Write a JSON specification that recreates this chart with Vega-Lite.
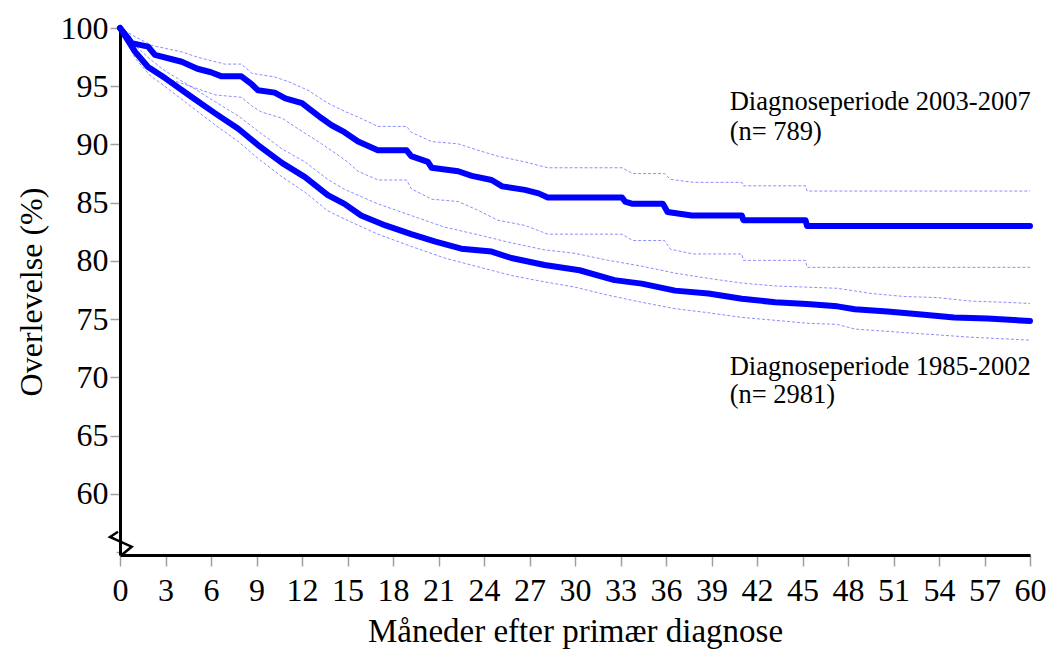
{
  "$schema": "https://vega.github.io/schema/vega-lite/v6.json",
  "width": 910,
  "height": 527,
  "autosize": {"type": "none"},
  "padding": {"left": 120, "top": 28, "right": 18, "bottom": 97},
  "background": "white",
  "config": {"view": {"stroke": null}, "font": "Liberation Serif"},
  "datasets": {
    "curves": [
      {"grp":"a","band":"est","m":0,"v":100},{"grp":"a","band":"est","m":0.5,"v":99.2},{"grp":"a","band":"est","m":0.77,"v":98.7},{"grp":"a","band":"est","m":1.85,"v":98.4},{"grp":"a","band":"est","m":2.3,"v":97.7},{"grp":"a","band":"est","m":4.07,"v":97.1},{"grp":"a","band":"est","m":5.1,"v":96.5},{"grp":"a","band":"est","m":6.0,"v":96.2},{"grp":"a","band":"est","m":6.7,"v":95.85},{"grp":"a","band":"est","m":8.0,"v":95.85},{"grp":"a","band":"est","m":8.7,"v":95.15},{"grp":"a","band":"est","m":9.1,"v":94.65},{"grp":"a","band":"est","m":10.2,"v":94.45},{"grp":"a","band":"est","m":10.9,"v":93.95},{"grp":"a","band":"est","m":12.0,"v":93.55},{"grp":"a","band":"est","m":12.4,"v":93.15},{"grp":"a","band":"est","m":13.3,"v":92.25},{"grp":"a","band":"est","m":13.95,"v":91.65},{"grp":"a","band":"est","m":14.8,"v":91.05},{"grp":"a","band":"est","m":15.7,"v":90.25},{"grp":"a","band":"est","m":17.0,"v":89.5},{"grp":"a","band":"est","m":18.9,"v":89.5},{"grp":"a","band":"est","m":19.2,"v":89.0},{"grp":"a","band":"est","m":20.3,"v":88.5},{"grp":"a","band":"est","m":20.55,"v":88.0},{"grp":"a","band":"est","m":22.3,"v":87.7},{"grp":"a","band":"est","m":23.2,"v":87.3},{"grp":"a","band":"est","m":24.5,"v":86.95},{"grp":"a","band":"est","m":25.2,"v":86.4},{"grp":"a","band":"est","m":26.7,"v":86.1},{"grp":"a","band":"est","m":27.6,"v":85.8},{"grp":"a","band":"est","m":28.2,"v":85.45},{"grp":"a","band":"est","m":33.1,"v":85.45},{"grp":"a","band":"est","m":33.3,"v":85.1},{"grp":"a","band":"est","m":33.8,"v":84.9},{"grp":"a","band":"est","m":35.8,"v":84.9},{"grp":"a","band":"est","m":36.1,"v":84.2},{"grp":"a","band":"est","m":37.7,"v":83.9},{"grp":"a","band":"est","m":41.0,"v":83.9},{"grp":"a","band":"est","m":41.1,"v":83.5},{"grp":"a","band":"est","m":45.2,"v":83.5},{"grp":"a","band":"est","m":45.3,"v":83.0},{"grp":"a","band":"est","m":60,"v":83.0},
      {"grp":"a","band":"hi","m":0,"v":100},{"grp":"a","band":"hi","m":1.0,"v":99.25},{"grp":"a","band":"hi","m":2.1,"v":98.5},{"grp":"a","band":"hi","m":4.07,"v":97.95},{"grp":"a","band":"hi","m":5.1,"v":97.5},{"grp":"a","band":"hi","m":6.9,"v":96.9},{"grp":"a","band":"hi","m":8.0,"v":96.9},{"grp":"a","band":"hi","m":8.7,"v":96.1},{"grp":"a","band":"hi","m":10.2,"v":95.8},{"grp":"a","band":"hi","m":11.1,"v":95.4},{"grp":"a","band":"hi","m":12.4,"v":94.65},{"grp":"a","band":"hi","m":13.7,"v":93.55},{"grp":"a","band":"hi","m":14.8,"v":92.85},{"grp":"a","band":"hi","m":15.7,"v":92.35},{"grp":"a","band":"hi","m":17.0,"v":91.55},{"grp":"a","band":"hi","m":18.9,"v":91.55},{"grp":"a","band":"hi","m":19.2,"v":91.05},{"grp":"a","band":"hi","m":20.55,"v":90.25},{"grp":"a","band":"hi","m":22.3,"v":90.05},{"grp":"a","band":"hi","m":23.6,"v":89.5},{"grp":"a","band":"hi","m":24.9,"v":89.0},{"grp":"a","band":"hi","m":26.7,"v":88.5},{"grp":"a","band":"hi","m":28.2,"v":88.0},{"grp":"a","band":"hi","m":33.1,"v":88.0},{"grp":"a","band":"hi","m":33.8,"v":87.5},{"grp":"a","band":"hi","m":35.9,"v":87.5},{"grp":"a","band":"hi","m":36.3,"v":87.0},{"grp":"a","band":"hi","m":37.8,"v":86.75},{"grp":"a","band":"hi","m":41.0,"v":86.75},{"grp":"a","band":"hi","m":41.1,"v":86.45},{"grp":"a","band":"hi","m":45.2,"v":86.45},{"grp":"a","band":"hi","m":45.3,"v":86.0},{"grp":"a","band":"hi","m":60,"v":86.0},
      {"grp":"a","band":"lo","m":0,"v":100},{"grp":"a","band":"lo","m":1.2,"v":97.8},{"grp":"a","band":"lo","m":2.5,"v":95.9},{"grp":"a","band":"lo","m":4.07,"v":95.25},{"grp":"a","band":"lo","m":6.3,"v":94.25},{"grp":"a","band":"lo","m":8.0,"v":94.05},{"grp":"a","band":"lo","m":8.7,"v":93.3},{"grp":"a","band":"lo","m":9.3,"v":92.8},{"grp":"a","band":"lo","m":10.7,"v":92.25},{"grp":"a","band":"lo","m":11.5,"v":91.55},{"grp":"a","band":"lo","m":13.3,"v":90.05},{"grp":"a","band":"lo","m":14.2,"v":89.25},{"grp":"a","band":"lo","m":15.0,"v":88.5},{"grp":"a","band":"lo","m":15.7,"v":87.7},{"grp":"a","band":"lo","m":17.0,"v":86.95},{"grp":"a","band":"lo","m":18.9,"v":86.95},{"grp":"a","band":"lo","m":19.2,"v":86.2},{"grp":"a","band":"lo","m":20.55,"v":85.3},{"grp":"a","band":"lo","m":22.3,"v":85.1},{"grp":"a","band":"lo","m":23.6,"v":84.35},{"grp":"a","band":"lo","m":24.9,"v":83.5},{"grp":"a","band":"lo","m":26.7,"v":83.05},{"grp":"a","band":"lo","m":28.2,"v":82.3},{"grp":"a","band":"lo","m":33.1,"v":82.3},{"grp":"a","band":"lo","m":33.8,"v":81.75},{"grp":"a","band":"lo","m":35.9,"v":81.75},{"grp":"a","band":"lo","m":36.3,"v":81.0},{"grp":"a","band":"lo","m":37.8,"v":80.6},{"grp":"a","band":"lo","m":41.0,"v":80.6},{"grp":"a","band":"lo","m":41.1,"v":80.05},{"grp":"a","band":"lo","m":45.2,"v":80.05},{"grp":"a","band":"lo","m":45.3,"v":79.45},{"grp":"a","band":"lo","m":60,"v":79.45},
      {"grp":"b","band":"est","m":0,"v":100},{"grp":"b","band":"est","m":1.0,"v":97.95},{"grp":"b","band":"est","m":1.85,"v":96.65},{"grp":"b","band":"est","m":2.97,"v":95.7},{"grp":"b","band":"est","m":4.7,"v":94.1},{"grp":"b","band":"est","m":6.3,"v":92.65},{"grp":"b","band":"est","m":7.8,"v":91.35},{"grp":"b","band":"est","m":9.1,"v":89.95},{"grp":"b","band":"est","m":10.7,"v":88.4},{"grp":"b","band":"est","m":12.2,"v":87.2},{"grp":"b","band":"est","m":13.7,"v":85.65},{"grp":"b","band":"est","m":14.8,"v":84.9},{"grp":"b","band":"est","m":15.9,"v":83.9},{"grp":"b","band":"est","m":17.5,"v":83.05},{"grp":"b","band":"est","m":19.2,"v":82.3},{"grp":"b","band":"est","m":20.8,"v":81.65},{"grp":"b","band":"est","m":22.5,"v":81.05},{"grp":"b","band":"est","m":24.5,"v":80.8},{"grp":"b","band":"est","m":25.8,"v":80.25},{"grp":"b","band":"est","m":28.0,"v":79.65},{"grp":"b","band":"est","m":30.3,"v":79.2},{"grp":"b","band":"est","m":32.6,"v":78.35},{"grp":"b","band":"est","m":34.4,"v":78.05},{"grp":"b","band":"est","m":36.6,"v":77.45},{"grp":"b","band":"est","m":38.8,"v":77.2},{"grp":"b","band":"est","m":41.0,"v":76.75},{"grp":"b","band":"est","m":43.2,"v":76.45},{"grp":"b","band":"est","m":45.3,"v":76.3},{"grp":"b","band":"est","m":47.3,"v":76.1},{"grp":"b","band":"est","m":48.45,"v":75.85},{"grp":"b","band":"est","m":50.6,"v":75.65},{"grp":"b","band":"est","m":52.85,"v":75.4},{"grp":"b","band":"est","m":55.0,"v":75.15},{"grp":"b","band":"est","m":57.2,"v":75.05},{"grp":"b","band":"est","m":60,"v":74.85},
      {"grp":"b","band":"hi","m":0,"v":100},{"grp":"b","band":"hi","m":1,"v":98.5},{"grp":"b","band":"hi","m":2,"v":97.3},{"grp":"b","band":"hi","m":3,"v":96.3},{"grp":"b","band":"hi","m":4.7,"v":94.95},{"grp":"b","band":"hi","m":6.3,"v":93.65},{"grp":"b","band":"hi","m":7.8,"v":92.45},{"grp":"b","band":"hi","m":9.1,"v":91.15},{"grp":"b","band":"hi","m":10.7,"v":89.6},{"grp":"b","band":"hi","m":12.2,"v":88.5},{"grp":"b","band":"hi","m":13.7,"v":87.0},{"grp":"b","band":"hi","m":14.8,"v":86.15},{"grp":"b","band":"hi","m":17.0,"v":84.9},{"grp":"b","band":"hi","m":19.2,"v":83.9},{"grp":"b","band":"hi","m":21.4,"v":82.9},{"grp":"b","band":"hi","m":23.6,"v":82.25},{"grp":"b","band":"hi","m":25.8,"v":81.55},{"grp":"b","band":"hi","m":28.0,"v":80.95},{"grp":"b","band":"hi","m":30.0,"v":80.65},{"grp":"b","band":"hi","m":32.2,"v":80.05},{"grp":"b","band":"hi","m":34.4,"v":79.55},{"grp":"b","band":"hi","m":36.6,"v":78.95},{"grp":"b","band":"hi","m":38.8,"v":78.5},{"grp":"b","band":"hi","m":41.0,"v":78.1},{"grp":"b","band":"hi","m":43.2,"v":77.85},{"grp":"b","band":"hi","m":45.3,"v":77.75},{"grp":"b","band":"hi","m":47.3,"v":77.65},{"grp":"b","band":"hi","m":49.55,"v":77.2},{"grp":"b","band":"hi","m":51.7,"v":76.95},{"grp":"b","band":"hi","m":53.9,"v":76.85},{"grp":"b","band":"hi","m":56.1,"v":76.55},{"grp":"b","band":"hi","m":58.3,"v":76.45},{"grp":"b","band":"hi","m":60,"v":76.35},
      {"grp":"b","band":"lo","m":0,"v":100},{"grp":"b","band":"lo","m":1,"v":97.4},{"grp":"b","band":"lo","m":2,"v":95.9},{"grp":"b","band":"lo","m":3,"v":94.95},{"grp":"b","band":"lo","m":4.7,"v":93.25},{"grp":"b","band":"lo","m":6.3,"v":91.65},{"grp":"b","band":"lo","m":7.8,"v":90.25},{"grp":"b","band":"lo","m":9.1,"v":88.8},{"grp":"b","band":"lo","m":10.7,"v":87.2},{"grp":"b","band":"lo","m":12.2,"v":85.9},{"grp":"b","band":"lo","m":13.7,"v":84.3},{"grp":"b","band":"lo","m":14.8,"v":83.6},{"grp":"b","band":"lo","m":17.0,"v":82.3},{"grp":"b","band":"lo","m":19.2,"v":81.25},{"grp":"b","band":"lo","m":21.4,"v":80.25},{"grp":"b","band":"lo","m":23.6,"v":79.5},{"grp":"b","band":"lo","m":25.8,"v":78.75},{"grp":"b","band":"lo","m":28.0,"v":78.2},{"grp":"b","band":"lo","m":30.0,"v":77.75},{"grp":"b","band":"lo","m":32.2,"v":77.05},{"grp":"b","band":"lo","m":34.4,"v":76.45},{"grp":"b","band":"lo","m":36.6,"v":75.9},{"grp":"b","band":"lo","m":38.8,"v":75.55},{"grp":"b","band":"lo","m":41.0,"v":75.15},{"grp":"b","band":"lo","m":43.2,"v":74.9},{"grp":"b","band":"lo","m":45.3,"v":74.65},{"grp":"b","band":"lo","m":47.3,"v":74.55},{"grp":"b","band":"lo","m":48.45,"v":74.15},{"grp":"b","band":"lo","m":51.7,"v":73.85},{"grp":"b","band":"lo","m":53.9,"v":73.65},{"grp":"b","band":"lo","m":56.1,"v":73.45},{"grp":"b","band":"lo","m":60,"v":73.2}
    ]
  },
  "layer": [
    {
      "data": {"name": "curves"},
      "transform": [{"filter": "datum.band !== 'est'"}],
      "mark": {"type": "line", "color": "#0000ff", "opacity": 0.45, "strokeWidth": 1, "strokeDash": [3, 2]},
      "encoding": {
        "x": {
          "field": "m", "type": "quantitative",
          "scale": {"domain": [0, 60], "nice": false, "zero": false},
          "axis": {
            "values": [0,3,6,9,12,15,18,21,24,27,30,33,36,39,42,45,48,51,54,57,60],
            "grid": false,
            "domainColor": "black", "domainWidth": 3,
            "tickColor": "#a0a0a0", "tickWidth": 1.5, "tickSize": 11,
            "labelFont": "Liberation Serif", "labelFontSize": 32, "labelColor": "black", "labelPadding": 9,
            "labelFlush": false, "labelOverlap": false,
            "title": "Måneder efter primær diagnose",
            "titleFont": "Liberation Serif", "titleFontSize": 33, "titleFontWeight": "normal", "titleColor": "black", "titlePadding": 9
          }
        },
        "y": {
          "field": "v", "type": "quantitative",
          "scale": {"domain": [54.75, 100], "nice": false, "zero": false},
          "axis": {
            "values": [55,57.5,60,62.5,65,67.5,70,72.5,75,77.5,80,82.5,85,87.5,90,92.5,95,97.5,100],
            "labelExpr": "(datum.value % 5 === 0 && datum.value >= 60) ? datum.label : ''",
            "grid": false,
            "domainColor": "black", "domainWidth": 3,
            "tickColor": "#a0a0a0", "tickWidth": 1.5,
            "tickSize": {"condition": {"test": "datum.value % 5 === 0 && datum.value >= 60", "value": 10}, "value": 4},
            "labelFont": "Liberation Serif", "labelFontSize": 32, "labelColor": "black", "labelPadding": 2,
            "labelFlush": false, "labelOverlap": false,
            "title": "Overlevelse (%)",
            "titleFont": "Liberation Serif", "titleFontSize": 32, "titleFontWeight": "normal", "titleColor": "black", "titlePadding": 12
          }
        },
        "detail": [{"field": "grp"}, {"field": "band"}]
      }
    },
    {
      "data": {"name": "curves"},
      "transform": [{"filter": "datum.band === 'est'"}],
      "mark": {"type": "line", "color": "#0000ff", "strokeWidth": 6, "strokeCap": "round", "strokeJoin": "round"},
      "encoding": {
        "x": {"field": "m", "type": "quantitative"},
        "y": {"field": "v", "type": "quantitative"},
        "detail": {"field": "grp"}
      }
    },
    {
      "data": {"values": [
        {"i": 1, "m": -0.13, "v": 56.75},
        {"i": 2, "m": -0.66, "v": 56.3},
        {"i": 3, "m": 0.77, "v": 55.46},
        {"i": 4, "m": 0.11, "v": 54.75}
      ]},
      "mark": {"type": "line", "color": "black", "strokeWidth": 2.5, "clip": false},
      "encoding": {
        "x": {"field": "m", "type": "quantitative"},
        "y": {"field": "v", "type": "quantitative"},
        "order": {"field": "i"}
      }
    },
    {
      "data": {"values": [
        {"m": 40.2, "v": 92.98, "t": "Diagnoseperiode 2003-2007"},
        {"m": 40.2, "v": 90.4, "t": "(n= 789)"},
        {"m": 40.2, "v": 70.21, "t": "Diagnoseperiode 1985-2002"},
        {"m": 40.2, "v": 67.8, "t": "(n= 2981)"}
      ]},
      "mark": {"type": "text", "align": "left", "baseline": "alphabetic", "font": "Liberation Serif", "fontSize": 26.5, "color": "black"},
      "encoding": {
        "x": {"field": "m", "type": "quantitative"},
        "y": {"field": "v", "type": "quantitative"},
        "text": {"field": "t"}
      }
    }
  ]
}
